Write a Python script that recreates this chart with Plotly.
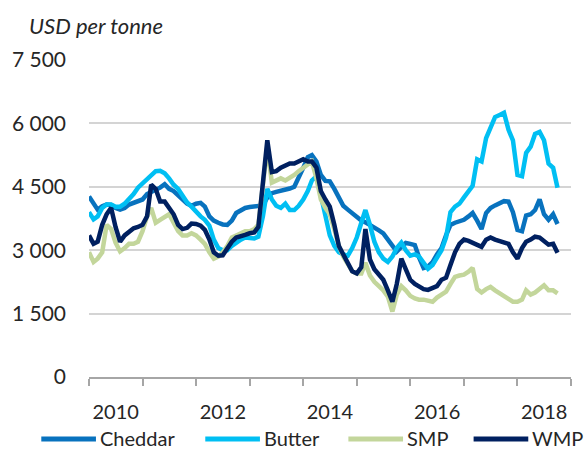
import pandas as pd
import plotly.graph_objects as go

# Monthly observations, Jan 2010 - Oct 2018 (USD per tonne)
dates = pd.date_range("2010-01-01", periods=106, freq="MS")

cheddar = [4270, 4100, 3960, 4040, 4080, 4070, 4000, 3960, 4000, 4080, 4120, 4160,
           4200, 4330, 4380, 4420, 4480, 4560, 4450, 4400, 4300, 4170, 4100, 4050,
           4100, 4120, 4030, 3800, 3700, 3650, 3610, 3600, 3700, 3880, 3950, 4000,
           4020, 4030, 4030, 4060, 4250, 4350, 4380, 4400, 4440, 4460, 4500, 4700,
           4950, 5200, 5250, 5100, 4780, 4640, 4630, 4450, 4250, 4050, 3960, 3870,
           3770, 3700, 3660, 3600, 3550, 3470, 3400, 3250, 3080, 2970, 3080, 3170,
           3150, 3120, 2830, 2580, 2610, 2720, 2900, 3050, 3350, 3600, 3650, 3680,
           3720, 3800, 3880, 3700, 3500, 3880, 4000, 4060, 4120, 4160, 4150, 3900,
           3480, 3450, 3820, 3850, 3950, 4200, 3850, 3720, 3850, 3620]

butter = [3900, 3730, 3800, 4000, 4080, 4080, 4030, 4030, 4100, 4200, 4330, 4480,
          4580, 4700, 4800, 4870, 4880, 4820, 4700, 4550, 4450, 4300, 4130, 4030,
          3900, 3800, 3720, 3580, 3250, 3050, 3000, 3000, 3100, 3180, 3250, 3300,
          3300, 3280, 3320, 3800, 4450, 4200, 4050, 4000, 4100, 3950, 3950, 4050,
          4200, 4400, 4650, 4750, 4300, 3800, 3350, 3100, 2950, 2900, 2870, 3050,
          3300, 3650, 3950, 3600, 3200, 2950, 2800, 2720, 2850, 3050, 3180, 3000,
          2870, 2900, 2850, 2700, 2560, 2650, 2850, 3000, 3300, 3900, 4030, 4100,
          4250, 4400, 4520, 5150, 5100, 5650, 5880, 6150, 6200, 6250, 5850, 5600,
          4780, 4750, 5300, 5450, 5750, 5800, 5600, 5050, 4950, 4480]

smp = [2950, 2720, 2800, 2950, 3600, 3500, 3180, 2970, 3050, 3150, 3150, 3200,
       3450, 3800, 4000, 3650, 3720, 3800, 3850, 3650, 3450, 3350, 3350, 3400,
       3350, 3250, 3150, 2950, 2800, 2850, 2950, 3100, 3300, 3350, 3400, 3450,
       3450, 3500, 3600, 4500, 5450, 4600, 4650, 4700, 4650, 4700, 4780, 4870,
       4950, 5050, 5100, 4700, 4200, 4000, 3850, 3500, 3100, 2850, 2650, 2500,
       2450, 2450, 2700, 2400, 2250, 2150, 2050, 1900, 1550, 1950, 2150, 2050,
       1920, 1860, 1830, 1830, 1800, 1780, 1880, 1950, 2020, 2200, 2370, 2400,
       2420, 2490, 2580, 2080, 2000, 2080, 2130, 2050, 1980, 1920, 1850, 1780,
       1780, 1830, 2050, 1950, 2000, 2100, 2170, 2050, 2050, 1980]

wmp = [3350, 3150, 3200, 3600, 3850, 4000, 3550, 3200, 3350, 3450, 3520, 3550,
       3600, 3800, 4550, 4450, 4150, 4150, 4000, 3850, 3600, 3500, 3530, 3630,
       3620, 3580, 3480, 3250, 2950, 2870, 2880, 3050, 3200, 3300, 3320, 3360,
       3400, 3420, 3550, 4600, 5600, 4850, 4870, 4950, 5000, 5050, 5050, 5100,
       5150, 5100, 5100, 4950, 4400, 4200, 4030, 3600, 3100, 2900, 2720, 2500,
       2450, 2600, 3500, 2780, 2550, 2420, 2300, 2050, 1780, 2200, 2800, 2550,
       2300, 2200, 2150, 2080, 2060, 2100, 2150, 2300, 2350, 2650, 2950, 3150,
       3250, 3220, 3180, 3150, 3080, 3250, 3300, 3250, 3220, 3200, 3150, 2950,
       2800, 3050, 3200, 3250, 3320, 3300, 3200, 3130, 3150, 2940]

series_names = ["Cheddar", "Butter", "SMP", "WMP"]
series_values = [cheddar, butter, smp, wmp]
series_colors = ["#0872BE", "#00BFF3", "#C3D69B", "#002060"]

y_tickvals = [0, 1500, 3000, 4500, 6000, 7500]
y_ticktext = ["0", "1 500", "3 000", "4 500", "6 000", "7 500"]
x_label_years = [2010, 2012, 2014, 2016, 2018]
x_boundary_years = list(range(2010, 2020))

FONT = "Lato, 'Open Sans', sans-serif"
TXT = "#262626"

W, H = 587, 451
L, R, T, B = 86, 16, 60, 74
PW, PH = W - L - R, H - T - B


def px_x(px):
    return (px - L) / PW


def px_y(py):
    return (H - B - py) / PH


fig = go.Figure()
for name, vals, col in zip(series_names, series_values, series_colors):
    fig.add_trace(go.Scatter(x=dates, y=vals, mode="lines", name=name,
                             line=dict(color=col, width=4.5), showlegend=False))

# custom legend row
leg_lines = [(38, 93), (203, 258), (347, 402), (473, 528)]
leg_y = 438
for (x0, x1), name, col in zip(leg_lines, series_names, series_colors):
    fig.add_shape(type="line", xref="paper", yref="paper",
                  x0=px_x(x0), x1=px_x(x1), y0=px_y(leg_y + 1), y1=px_y(leg_y + 1),
                  line=dict(color=col, width=5))
    fig.add_annotation(xref="paper", yref="paper", x=px_x(x1 + 3), y=px_y(leg_y),
                       xanchor="left", yanchor="middle", showarrow=False,
                       borderpad=0,
                       text=name, font=dict(family=FONT, size=20, color=TXT))

fig.add_annotation(xref="paper", yref="paper", x=px_x(24), y=px_y(25),
                   xanchor="left", yanchor="middle", showarrow=False,
                   text="<i>USD per tonne</i>",
                   font=dict(family=FONT, size=22, color=TXT))

fig.update_layout(
    width=W, height=H,
    margin=dict(l=L, r=R, t=T, b=B, pad=0),
    paper_bgcolor="white", plot_bgcolor="white",
    font=dict(family=FONT, size=21, color=TXT),
    xaxis=dict(
        type="date",
        range=["2010-01-01", "2019-01-01"],
        tickmode="array",
        tickvals=[f"{y}-07-02" for y in x_label_years],
        ticktext=[str(y) for y in x_label_years],
        tickfont=dict(size=20),
        ticks="",
        showgrid=False,
        showline=True, linecolor="#A6A6A6", linewidth=1.5,
        zeroline=False,
        ticklabelstandoff=16,
        minor=dict(tickmode="array",
                   tickvals=[f"{y}-01-01" for y in x_boundary_years],
                   ticks="outside", ticklen=7, tickwidth=1.5,
                   tickcolor="#A6A6A6", showgrid=False),
    ),
    yaxis=dict(
        range=[0, 7500],
        tickmode="array", tickvals=y_tickvals, ticktext=y_ticktext,
        showgrid=True, gridcolor="#D4D4D4", gridwidth=1.5,
        zeroline=False, showline=False, ticks="",
        ticklabelstandoff=22,
    ),
)

fig.write_html("out.html", config={"displayModeBar": False},
               post_script="document.body.style.margin='0px';document.body.style.padding='0px';")
